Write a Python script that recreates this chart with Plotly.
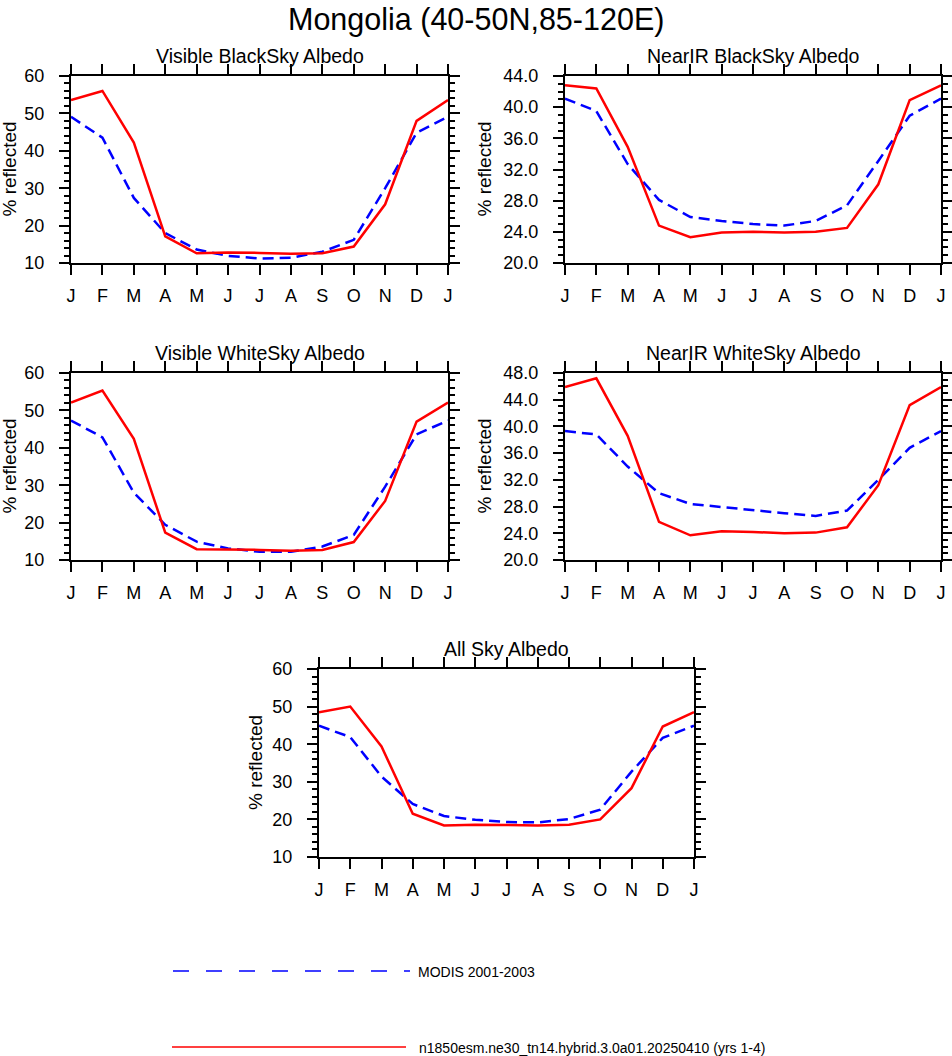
import plotly.graph_objects as go

# month axis: Jan..Dec plus Jan again to close the annual cycle
month_idx = list(range(13))
month_labels = ["J", "F", "M", "A", "M", "J", "J", "A", "S", "O", "N", "D", "J"]

model_name = "n1850esm.ne30_tn14.hybrid.3.0a01.20250410 (yrs 1-4)"
obs_name = "MODIS 2001-2003"

# % reflected
vis_bs_model = [53.6, 56.0, 42.2, 17.1, 12.6, 12.8, 12.7, 12.5, 12.6, 14.4, 25.7, 48.0, 53.6]
vis_bs_modis = [49.1, 43.5, 27.4, 18.0, 13.6, 11.9, 11.2, 11.4, 13.0, 16.2, 30.0, 44.8, 49.1]

nir_bs_model = [42.8, 42.4, 34.9, 24.8, 23.3, 23.9, 24.0, 23.9, 24.0, 24.5, 30.1, 40.9, 42.8]
nir_bs_modis = [41.1, 39.5, 32.7, 28.1, 25.9, 25.4, 25.0, 24.8, 25.4, 27.4, 33.1, 38.9, 41.1]

vis_ws_model = [52.1, 55.3, 42.4, 17.3, 12.9, 12.9, 12.7, 12.5, 12.7, 14.8, 25.8, 47.0, 52.1]
vis_ws_modis = [47.3, 42.8, 28.0, 19.4, 14.9, 13.1, 12.2, 12.2, 13.6, 16.7, 29.6, 43.6, 47.3]

nir_ws_model = [45.9, 47.2, 38.6, 25.7, 23.7, 24.3, 24.2, 24.0, 24.1, 24.9, 31.2, 43.2, 45.9]
nir_ws_modis = [39.3, 38.8, 34.0, 30.0, 28.4, 27.9, 27.5, 27.0, 26.6, 27.4, 32.0, 36.8, 39.3]

all_sky_model = [48.5, 50.0, 39.4, 21.5, 18.4, 18.6, 18.5, 18.4, 18.6, 20.0, 28.3, 44.7, 48.5]
all_sky_modis = [44.9, 41.9, 31.4, 24.1, 20.9, 19.9, 19.3, 19.2, 20.1, 22.6, 32.7, 41.7, 44.9]

W, H = 952, 1056
FONT = "Liberation Sans, Arial, Helvetica, sans-serif"


def fx(px):
    return px / W


def fy(py):
    return 1 - py / H


# panel boxes in pixels: left, right, top, bottom; ylab = gap to the "% reflected" label
panels = [
    dict(title="Visible BlackSky Albedo", model=vis_bs_model, modis=vis_bs_modis,
         yr=[10, 60], dt=10, mdt=2, fmt="d", box=(71, 448, 76, 263), ylab=62),
    dict(title="NearIR BlackSky Albedo", model=nir_bs_model, modis=nir_bs_modis,
         yr=[20, 44], dt=4, mdt=1, fmt=".1f", box=(565, 941, 76, 263), ylab=81),
    dict(title="Visible WhiteSky Albedo", model=vis_ws_model, modis=vis_ws_modis,
         yr=[10, 60], dt=10, mdt=2, fmt="d", box=(71, 448, 373, 560), ylab=62),
    dict(title="NearIR WhiteSky Albedo", model=nir_ws_model, modis=nir_ws_modis,
         yr=[20, 48], dt=4, mdt=1, fmt=".1f", box=(565, 941, 373, 560), ylab=81),
    dict(title="All Sky Albedo", model=all_sky_model, modis=all_sky_modis,
         yr=[10, 60], dt=10, mdt=2, fmt="d", box=(319, 694, 669, 857), ylab=64),
]

fig = go.Figure()
annotations = []
layout_axes = {}

for i, p in enumerate(panels, start=1):
    sfx = "" if i == 1 else str(i)
    l, r, t, b = p["box"]

    fig.add_trace(go.Scatter(x=month_idx, y=p["modis"], mode="lines",
                             line=dict(color="#0000ff", width=2.5, dash="11px,6px"),
                             xaxis="x" + sfx, yaxis="y" + sfx, showlegend=False))
    fig.add_trace(go.Scatter(x=month_idx, y=p["model"], mode="lines",
                             line=dict(color="#ff0000", width=2.5),
                             xaxis="x" + sfx, yaxis="y" + sfx, showlegend=False))

    layout_axes["xaxis" + sfx] = dict(
        domain=[fx(l), fx(r)], anchor="y" + sfx, range=[0, 12],
        tickvals=month_idx, ticktext=month_labels, automargin=False,
        ticks="outside", ticklen=10, tickwidth=2, tickcolor="black",
        showline=True, linewidth=2, linecolor="black", mirror="allticks",
        showgrid=False, zeroline=False, ticklabelstandoff=5,
        tickfont=dict(size=18, color="black", family=FONT),
    )
    layout_axes["yaxis" + sfx] = dict(
        domain=[fy(b), fy(t)], anchor="x" + sfx, range=p["yr"], automargin=False,
        dtick=p["dt"], tick0=p["yr"][0], tickformat=p["fmt"],
        ticks="outside", ticklen=10, tickwidth=2, tickcolor="black",
        minor=dict(dtick=p["mdt"], ticks="outside", ticklen=5, tickwidth=1.5,
                   tickcolor="black", showgrid=False),
        showline=True, linewidth=2, linecolor="black", mirror="allticks",
        showgrid=False, zeroline=False, ticklabelstandoff=11,
        tickfont=dict(size=18, color="black", family=FONT),
    )

    annotations.append(dict(text=p["title"], x=fx((l + r) / 2), y=fy(t - 20),
                            xref="paper", yref="paper", showarrow=False,
                            xanchor="center", yanchor="middle",
                            font=dict(size=19.5, color="black", family=FONT)))
    annotations.append(dict(text="% reflected", x=fx(l - p["ylab"]), y=fy((t + b) / 2),
                            xref="paper", yref="paper", showarrow=False, textangle=-90,
                            xanchor="center", yanchor="middle",
                            font=dict(size=19, color="black", family=FONT)))

# main title, hung from the top edge of the page
annotations.append(dict(text="Mongolia (40-50N,85-120E)", x=0.5, y=1.0,
                        xref="paper", yref="paper", showarrow=False,
                        xanchor="center", yanchor="top",
                        font=dict(size=30.5, color="black", family=FONT)))

# legend drawn by hand, NCL style
shapes = [
    dict(type="line", xref="paper", yref="paper", x0=fx(173), x1=fx(410),
         y0=fy(971), y1=fy(971), line=dict(color="#0000ff", width=1.5, dash="16px,17px")),
    dict(type="line", xref="paper", yref="paper", x0=fx(172), x1=fx(406),
         y0=fy(1047), y1=fy(1047), line=dict(color="#ff0000", width=1.5)),
]
annotations.append(dict(text=obs_name, x=fx(416), y=fy(972), xref="paper", yref="paper",
                        showarrow=False, xanchor="left", yanchor="middle",
                        font=dict(size=14, color="black", family=FONT)))
annotations.append(dict(text=model_name, x=fx(417), y=fy(1048), xref="paper", yref="paper",
                        showarrow=False, xanchor="left", yanchor="middle",
                        font=dict(size=14, color="black", family=FONT)))

fig.update_layout(
    template="none",
    width=W, height=H, autosize=False,
    margin=dict(l=0, r=0, t=0, b=0, pad=0, autoexpand=False),
    paper_bgcolor="white", plot_bgcolor="white",
    font=dict(family=FONT, color="black"),
    showlegend=False,
    annotations=annotations,
    shapes=shapes,
    **layout_axes,
)

# drop the default page margin so the figure sits at the window's corner
fig.write_html("out.html", config={"displayModeBar": False},
               post_script="document.body.style.margin='0px';")
